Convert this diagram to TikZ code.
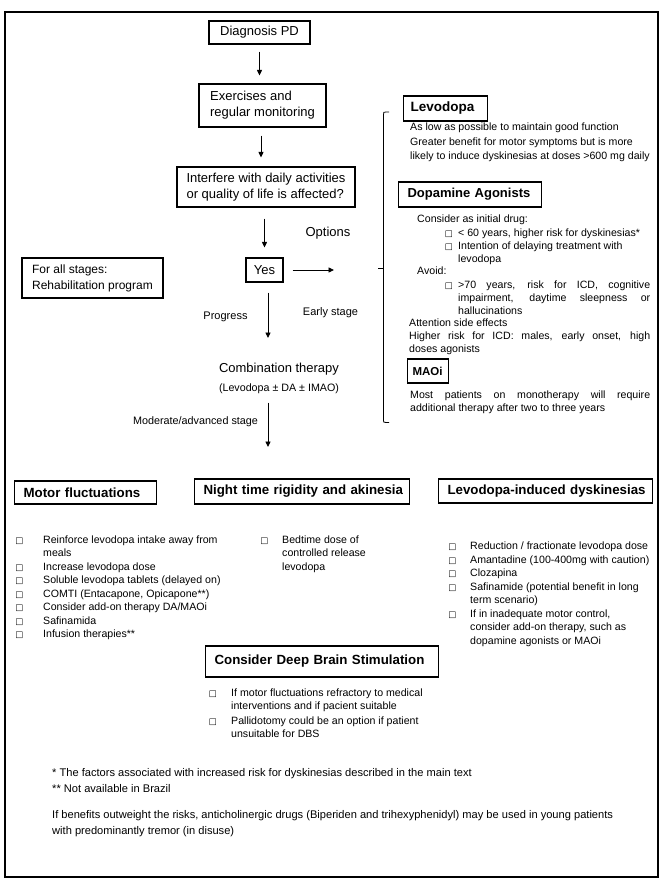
\documentclass[tikz,border=0pt]{standalone}
\usepackage{fontspec}
\setmainfont{Liberation Sans}
\newfontfamily\symfont{DejaVu Sans}
\usetikzlibrary{arrows.meta}
\begin{document}
\begin{tikzpicture}[x=1pt,y=-1pt,
  outer/.style={draw, line width=1.8pt},
  flowbox/.style={draw, line width=1.1pt, inner sep=0pt, align=left, font=\fontsize{13}{16}\selectfont},
  headbox/.style={draw, line width=1.1pt, inner ysep=0pt, inner xsep=9pt, align=left, anchor=west, font=\bfseries\fontsize{13.3}{15}\selectfont},
  lbl/.style={inner sep=0pt, font=\fontsize{10.8}{13}\selectfont},
  body/.style={inner sep=0pt, anchor=base west, align=left, font=\fontsize{10.6}{13.5}\selectfont},
  foot/.style={inner sep=0pt, anchor=base west, align=left, font=\fontsize{11.1}{16}\selectfont},
  bul/.style={inner sep=0pt, anchor=base, font=\symfont\fontsize{8.5}{9}\selectfont},
  arr/.style={-{Triangle[length=5.5pt,width=5pt]}, line width=0.9pt},
  brace/.style={line width=0.8pt},
]
\useasboundingbox (0,0) rectangle (666,895);
\draw[outer] (5,12) rectangle (658,877);

% ---------- main flow ----------
\node[flowbox, minimum width=101pt, minimum height=23pt] (diag) at (259.5,32.5) {Diagnosis PD};
\node[flowbox, minimum width=127pt, minimum height=43pt] (exer) at (262.5,105.5) {Exercises and\\regular monitoring};
\node[flowbox, minimum width=178pt, minimum height=40pt] (inter) at (266,187) {Interfere with daily activities\\or quality of life is affected?};
\node[flowbox, minimum width=37pt, minimum height=24pt] (yes) at (264.5,270) {Yes};
\node[flowbox, minimum width=141pt, minimum height=40pt, font=\fontsize{12}{16}\selectfont] (stages) at (92.5,278) {For all stages:\\Rehabilitation program};
\node[lbl, font=\fontsize{13}{15}\selectfont] (options) at (328,233) {Options};
\node[lbl, font=\fontsize{11}{13}\selectfont] (progress) at (225.5,317) {Progress};
\node[lbl, font=\fontsize{11}{13}\selectfont] (early) at (330.5,313) {Early stage};
\node[inner sep=0pt, align=center, font=\fontsize{13}{19}\selectfont] (comb) at (279,378) {Combination therapy\\{\fontsize{10.7}{13}\selectfont(Levodopa ± DA ± IMAO)}};
\node[lbl] (moder) at (195.5,422) {Moderate/advanced stage};

\coordinate (optEnd) at (334,270);
\coordinate (progEnd) at (268,338);
\coordinate (modEnd) at (268,447);

\draw[arr, shorten <=7pt, shorten >=8pt] (diag.south) -- (diag.south |- exer.north);
\draw[arr, shorten <=8pt, shorten >=9pt] ([xshift=-1.5pt]exer.south) -- ([xshift=-1.5pt]exer.south |- inter.north);
\draw[arr, shorten <=11pt, shorten >=10pt] (yes.north |- inter.south) -- (yes.north);
\draw[arr, shorten <=9pt] (yes.east) -- (optEnd);
\draw[arr, shorten <=10pt] (yes.south -| progEnd) -- (progEnd);
\draw[arr, shorten <=9pt] (comb.south -| modEnd) -- (modEnd);

% ---------- brace ----------
\draw[brace] (389,112) -- (386,112) .. controls (383.5,112) .. (383.5,115) -- (383.5,419) .. controls (383.5,422.5) .. (386,422.5) -- (389,422.5);
\draw[brace] (383.5,268) -- (378,268);

% ---------- right panel ----------
\node[headbox, inner xsep=7pt, text width=70pt, minimum height=25pt, font=\bfseries\fontsize{13.5}{15}\selectfont] (levo) at (403,108.5) {\mbox{Levodopa}};
\node[body, font=\fontsize{10.6}{14.5}\selectfont] (levotxt) at (410,159.5) {As low as possible to maintain good function\\Greater benefit for motor symptoms but is more\\likely to induce dyskinesias at doses >600 mg daily};

\node[headbox, text width=125pt, minimum height=25pt, font=\bfseries\fontsize{13}{15}\selectfont] (dopa) at (398,194.5) {\mbox{Dopamine Agonists}};
\node[body] (dopa1) at (417,222.5) {Consider as initial drug:};
\node[body, font=\fontsize{10.6}{13}\selectfont] (dopa2) at (458,262.5) {< 60 years, higher risk for dyskinesias*\\Intention of delaying treatment with\\levodopa};
\node[bul] (b1) at (449,236.5) {□};
\node[bul] (b2) at (449,249.5) {□};
\node[body] (dopa3) at (417,274.5) {Avoid:};
\node[body, font=\fontsize{10.6}{13}\selectfont] (dopa4) at (458,314.5) {\makebox[192pt][s]{>70 years, risk for ICD, cognitive}\\\makebox[192pt][s]{impairment, daytime sleepness or}\\hallucinations};
\node[bul] (b3) at (449,288.5) {□};
\node[body, font=\fontsize{10.6}{13}\selectfont] (dopa5) at (409,352.5) {Attention side effects\\\makebox[241pt][s]{Higher risk for ICD: males, early onset, high}\\doses agonists};

\node[headbox, inner xsep=5pt, text width=31pt, minimum height=24pt, font=\bfseries\fontsize{11.5}{13}\selectfont] (maoi) at (407,371) {\mbox{MAOi}};
\node[body, font=\fontsize{10.6}{13}\selectfont] (maoitxt) at (410,411.5) {\makebox[240pt][s]{Most patients on monotherapy will require}\\additional therapy after two to three years};

% ---------- bottom headers ----------
\node[headbox, text width=124pt, minimum height=23pt] (motor) at (14,492.5) {\mbox{Motor fluctuations}};
\node[headbox, text width=197pt, minimum height=25pt] (night) at (194,491.5) {\mbox{Night time rigidity and akinesia}};
\node[headbox, text width=196pt, minimum height=24pt] (dysk) at (438,491) {\mbox{Levodopa-induced dyskinesias}};

% motor list
\node[body, font=\fontsize{10.6}{13.43}\selectfont] (motortxt) at (43,637.5) {Reinforce levodopa intake away from\\meals\\Increase levodopa dose\\Soluble levodopa tablets (delayed on)\\COMTI (Entacapone, Opicapone**)\\Consider add-on therapy DA/MAOi\\Safinamida\\Infusion therapies**};
\foreach \y/\n in {543.5/m1,570.4/m2,583.8/m3,597.2/m4,610.7/m5,624.1/m6,637.5/m7}
  \node[bul] (\n) at (19.5,\y) {□};

% night list
\node[body, font=\fontsize{10.6}{13.43}\selectfont] (nighttxt) at (282,570.4) {Bedtime dose of\\controlled release\\levodopa};
\node[bul] (n1) at (264.5,543.5) {□};

% dyskinesia list
\node[body, font=\fontsize{10.6}{13.57}\selectfont] (dysktxt) at (470,644.5) {Reduction / fractionate levodopa dose\\Amantadine (100-400mg with caution)\\Clozapina\\Safinamide (potential benefit in long\\term scenario)\\If in inadequate motor control,\\consider add-on therapy, such as\\dopamine agonists or MAOi};
\foreach \y/\n in {549.5/d1,563.1/d2,576.6/d3,590.2/d4,617.4/d5}
  \node[bul] (\n) at (452.5,\y) {□};

% DBS
\node[headbox, text width=215pt, minimum height=31pt] (dbs) at (205,661.5) {\mbox{Consider Deep Brain Stimulation}};
\node[body, font=\fontsize{10.6}{12.5}\selectfont] (dbstxt) at (231,737) {If motor fluctuations refractory to medical\\interventions and if pacient suitable\\[3pt]Pallidotomy could be an option if patient\\unsuitable for DBS};
\node[bul] (s1) at (213,696.5) {□};
\node[bul] (s2) at (213,724.5) {□};

% footnotes
\node[foot] (fn1) at (52,792.5) {* The factors associated with increased risk for dyskinesias described in the main text\\** Not available in Brazil};
\node[foot] (fn2) at (52,834.5) {If benefits outweight the risks, anticholinergic drugs (Biperiden and trihexyphenidyl) may be used in young patients\\with predominantly tremor (in disuse)};
\end{tikzpicture}
\end{document}
